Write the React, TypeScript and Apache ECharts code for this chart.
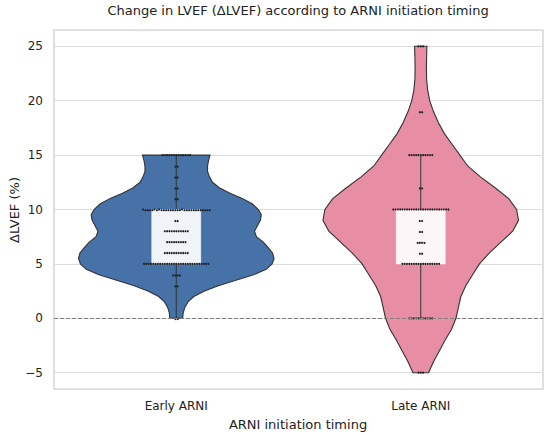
import React, { useEffect, useRef } from "react";
import * as echarts from "echarts";

const categories = ["Early ARNI", "Late ARNI"];
const violinColors = ["#4672a8", "#e78ea5"];

// KDE outline (value, relative density; max = 1)
const earlyKdeY = [0, 0.5, 1, 1.5, 2, 2.5, 3, 3.5, 4, 4.5, 5, 5.5, 6, 6.5, 7, 7.5, 8, 8.5, 9, 9.5, 10, 10.5, 11, 11.5, 12, 12.5, 13, 13.5, 14, 14.5, 15];
const earlyKdeDensity = [0.066, 0.071, 0.088, 0.12, 0.18, 0.29, 0.43, 0.61, 0.79, 0.92, 0.98, 1.0, 0.985, 0.94, 0.89, 0.82, 0.8, 0.83, 0.86, 0.87, 0.84, 0.78, 0.68, 0.55, 0.44, 0.37, 0.34, 0.32, 0.32, 0.33, 0.345];

const lateKdeY = [-5, -4, -3, -2, -1, 0, 1, 2, 3, 4, 5, 6, 7, 8, 9, 10, 11, 12, 13, 14, 15, 16, 17, 18, 19, 20, 21, 22, 23, 24, 25];
const lateKdeDensity = [0.08, 0.13, 0.19, 0.25, 0.315, 0.36, 0.385, 0.41, 0.46, 0.53, 0.6, 0.7, 0.82, 0.94, 1.0, 0.98, 0.9, 0.76, 0.61, 0.48, 0.4, 0.32, 0.24, 0.18, 0.13, 0.092, 0.07, 0.06, 0.058, 0.06, 0.063];

// Box plot statistics
const boxQ1 = [5, 5];
const boxQ3 = [10, 10];
const whiskerLow = [0, 0];
const whiskerHigh = [15, 15];

// Swarm points: value and number of patients at that value
const earlyPointValues = [0, 3, 4, 5, 6, 7, 8, 9, 10, 11, 12, 13, 14, 15];
const earlyPointCounts = [2, 2, 4, 29, 11, 9, 11, 2, 30, 2, 2, 2, 2, 13];
const latePointValues = [-5, 0, 5, 6, 7, 8, 9, 10, 12, 15, 19, 25];
const latePointCounts = [3, 11, 17, 2, 4, 2, 2, 25, 2, 11, 2, 3];

const yTickValues = [-5, 0, 5, 10, 15, 20, 25];

const FONT = "DejaVu Sans";

export default function App() {
  const ref = useRef<HTMLDivElement>(null);

  useEffect(() => {
    if (!ref.current) return;
    const chart = echarts.init(ref.current, null, { renderer: "svg" });

    const kdeY = [earlyKdeY, lateKdeY];
    const kdeD = [earlyKdeDensity, lateKdeDensity];

    const pointData: number[][] = [];
    earlyPointValues.forEach((v, i) => pointData.push([0, v, earlyPointCounts[i]]));
    latePointValues.forEach((v, i) => pointData.push([1, v, latePointCounts[i]]));

    const option: any = {
      animation: false,
      backgroundColor: "#ffffff",
      textStyle: { fontFamily: FONT },
      title: {
        text: "Change in LVEF (ΔLVEF) according to ARNI initiation timing",
        left: 298,
        top: 4,
        padding: 0,
        textAlign: "center",
        textStyle: { fontFamily: FONT, fontSize: 13, fontWeight: "normal", color: "#222222" },
      },
      graphic: [
        {
          type: "text",
          x: 298,
          y: 424,
          style: {
            text: "ARNI initiation timing",
            font: `13px '${FONT}'`,
            fill: "#222222",
            textAlign: "center",
            textVerticalAlign: "middle",
          },
        },
        {
          type: "text",
          x: 14,
          y: 210,
          rotation: Math.PI / 2,
          style: {
            text: "ΔLVEF (%)",
            font: `13px '${FONT}'`,
            fill: "#222222",
            textAlign: "center",
            textVerticalAlign: "middle",
          },
        },
      ],
      grid: {
        left: 54,
        right: 7,
        top: 30,
        bottom: 48,
        show: true,
        borderColor: "#cccccc",
        borderWidth: 1.25,
        outerBoundsMode: "none",
      },
      xAxis: {
        type: "category",
        data: categories,
        boundaryGap: true,
        axisLine: { show: false },
        axisTick: { show: false },
        splitLine: { show: false },
        axisLabel: { fontFamily: FONT, fontSize: 12, color: "#222222", margin: 11 },
      },
      yAxis: {
        type: "value",
        min: -6.5,
        max: 26.5,
        splitNumber: 6,
        axisLine: { show: false },
        axisTick: { show: false },
        axisLabel: {
          fontFamily: FONT,
          fontSize: 12,
          color: "#222222",
          margin: 11,
          showMinLabel: false,
          showMaxLabel: false,
          formatter: (v: number) => (yTickValues.includes(v) ? (v < 0 ? "\u2212" + Math.abs(v) : String(v)) : ""),
        },
        splitLine: { show: true, lineStyle: { color: "#dddddd", width: 1.2 } },
      },
      series: [
        {
          type: "line",
          data: [],
          z: 1,
          markLine: {
            silent: true,
            symbol: "none",
            label: { show: false },
            lineStyle: { color: "#808080", type: [4, 2], width: 1 },
            data: [{ yAxis: 0 }],
          },
        },
        {
          type: "custom",
          z: 2,
          data: [[0, 0], [1, 0]],
          encode: { x: 0, y: 1 },
          renderItem: (params: any, api: any) => {
            const idx = api.value(0);
            const ys = kdeY[idx];
            const ds = kdeD[idx];
            const band = api.size([1, 0])[0];
            const pts: number[][] = [];
            for (let i = 0; i < ys.length; i++) {
              const c = api.coord([idx, ys[i]]);
              pts.push([c[0] + ds[i] * 0.4 * band, c[1]]);
            }
            for (let i = ys.length - 1; i >= 0; i--) {
              const c = api.coord([idx, ys[i]]);
              pts.push([c[0] - ds[i] * 0.4 * band, c[1]]);
            }
            return {
              type: "polygon",
              shape: { points: pts },
              style: { fill: violinColors[idx], stroke: "#333333", lineWidth: 1.1 },
            };
          },
        },
        {
          type: "custom",
          z: 3,
          data: [[0, 0], [1, 0]],
          encode: { x: 0, y: 1 },
          renderItem: (params: any, api: any) => {
            const idx = api.value(0);
            const band = api.size([1, 0])[0];
            const top = api.coord([idx, boxQ3[idx]]);
            const bot = api.coord([idx, boxQ1[idx]]);
            const lo = api.coord([idx, whiskerLow[idx]]);
            const hi = api.coord([idx, whiskerHigh[idx]]);
            const hw = 0.1 * band;
            return {
              type: "group",
              children: [
                {
                  type: "line",
                  shape: { x1: hi[0], y1: hi[1], x2: top[0], y2: top[1] },
                  style: { stroke: "#333333", lineWidth: 1 },
                },
                {
                  type: "line",
                  shape: { x1: bot[0], y1: bot[1], x2: lo[0], y2: lo[1] },
                  style: { stroke: "#333333", lineWidth: 1 },
                },
                {
                  type: "rect",
                  shape: { x: top[0] - hw, y: top[1], width: 2 * hw, height: bot[1] - top[1] },
                  style: { fill: "rgba(255,255,255,0.92)", stroke: "rgba(255,255,255,0.6)", lineWidth: 1 },
                },
              ],
            };
          },
        },
        {
          type: "custom",
          z: 4,
          data: pointData,
          encode: { x: 0, y: 1 },
          renderItem: (params: any, api: any) => {
            const idx = api.value(0);
            const v = api.value(1);
            const n = api.value(2);
            const band = api.size([1, 0])[0];
            const step = 0.0094 * band;
            const c = api.coord([idx, v]);
            const children: any[] = [];
            for (let k = 0; k < n; k++) {
              children.push({
                type: "circle",
                shape: { cx: c[0] + (k - (n - 1) / 2) * step, cy: c[1], r: 1 },
                style: { fill: "#222222" },
              });
            }
            return { type: "group", children };
          },
        },
      ],
    };

    chart.setOption(option);
    return () => chart.dispose();
  }, []);

  return <div ref={ref} style={{ position: "absolute", left: 0, top: 0, width: 550, height: 437 }} />;
}
